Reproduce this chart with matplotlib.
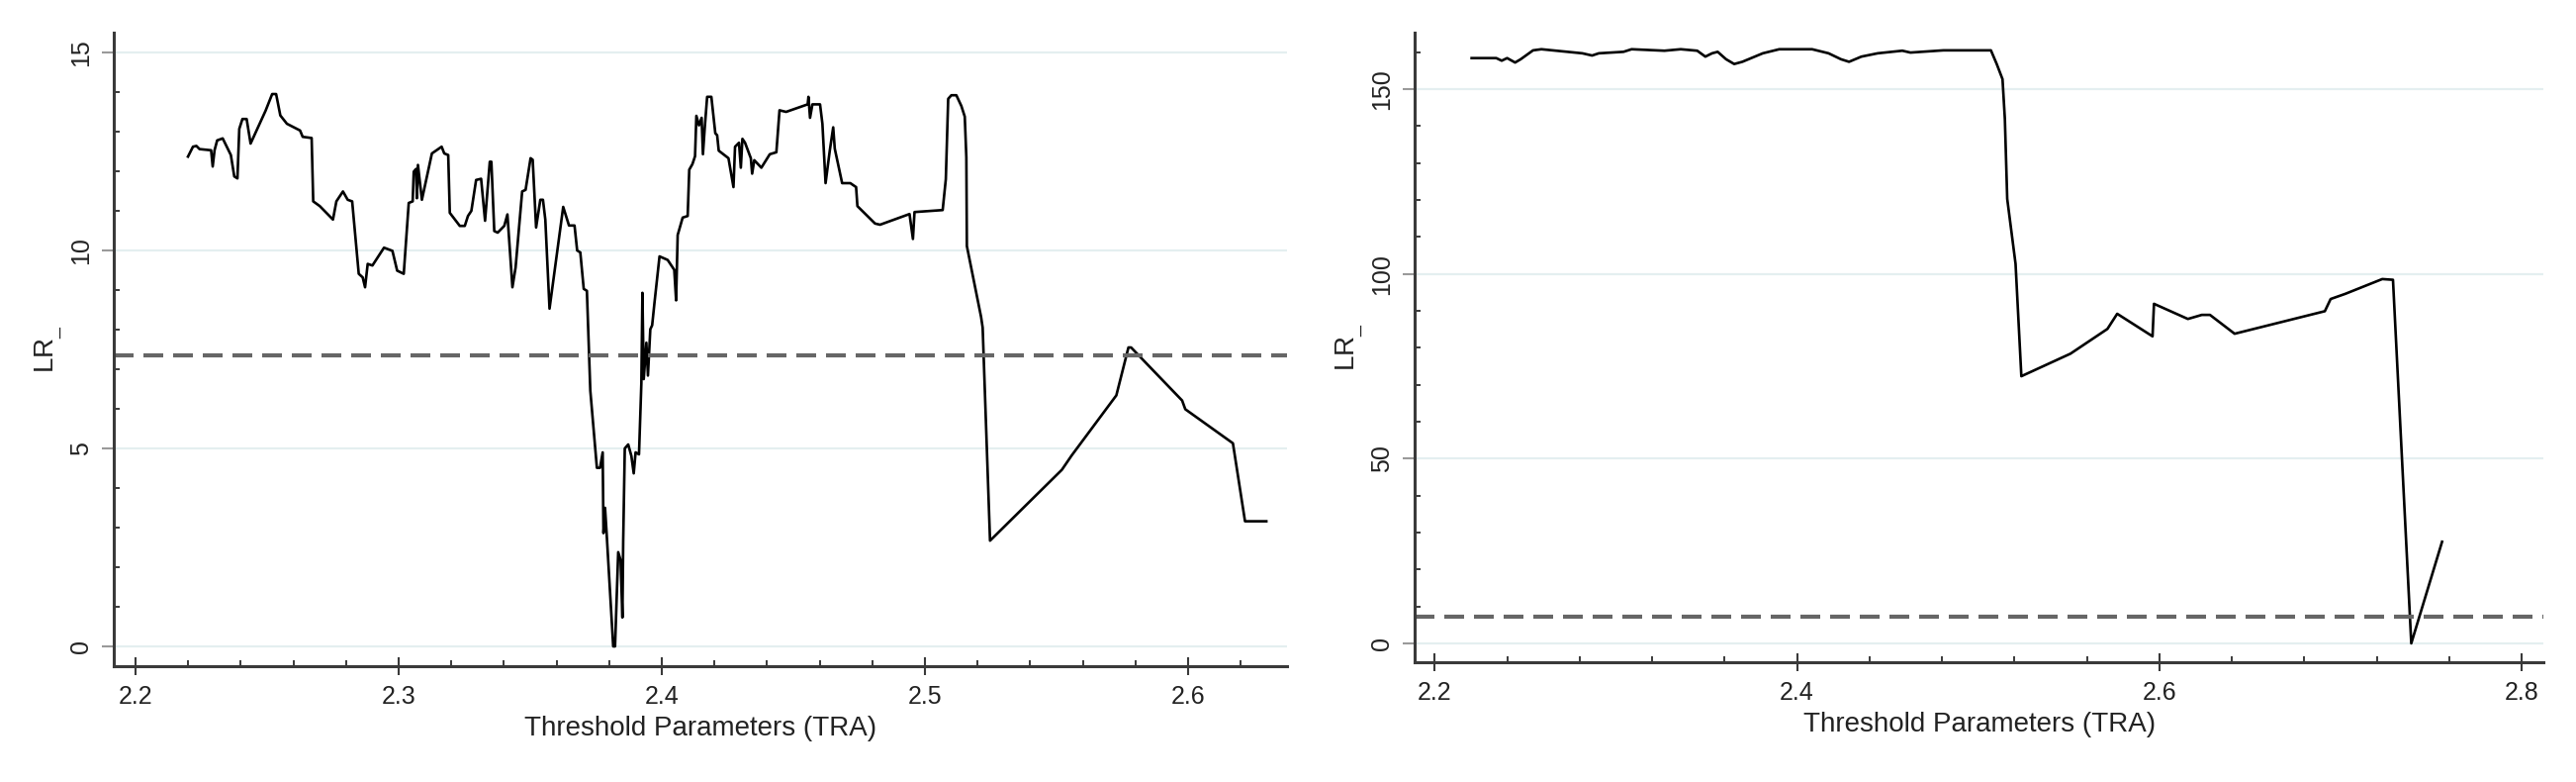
import matplotlib
matplotlib.use("Agg")
import matplotlib.pyplot as plt
from matplotlib.ticker import MultipleLocator, FormatStrFormatter

plt.rcParams["font.family"] = ["Liberation Sans", "DejaVu Sans"]
plt.rcParams["mathtext.fontset"] = "custom"
plt.rcParams["mathtext.rm"] = "Liberation Sans"
plt.rcParams["mathtext.it"] = "Liberation Sans:italic"

# ------------------------------------------------
# Data
# ------------------------------------------------
tra_left = [
    2.2199, 2.2218, 2.2231, 2.2243, 2.2287, 2.2293, 2.2300, 2.2310, 2.2331, 2.2362,
    2.2375, 2.2387, 2.2394, 2.2406, 2.2422, 2.2437, 2.2494, 2.2519, 2.2534, 2.2550,
    2.2575, 2.2625, 2.2635, 2.2669, 2.2675, 2.2700, 2.2750, 2.2763, 2.2788, 2.2806,
    2.2823, 2.2848, 2.2863, 2.2872, 2.2882, 2.2900, 2.2944, 2.2976, 2.2994, 2.3019,
    2.3038, 2.3053, 2.3057, 2.3066, 2.3069, 2.3073, 2.3088, 2.3126, 2.3163, 2.3173,
    2.3188, 2.3194, 2.3232, 2.3251, 2.3263, 2.3276, 2.3294, 2.3313, 2.3328, 2.3346,
    2.3352, 2.3363, 2.3376, 2.3401, 2.3413, 2.3432, 2.3444, 2.3469, 2.3482, 2.3501,
    2.3509, 2.3522, 2.3538, 2.3548, 2.3557, 2.3573, 2.3625, 2.3647, 2.3668, 2.3678,
    2.3690, 2.3703, 2.3715, 2.3728, 2.3753, 2.3765, 2.3775, 2.3778, 2.3784, 2.3790,
    2.3815, 2.3822, 2.3834, 2.3843, 2.3850, 2.3853, 2.3859, 2.3872, 2.3884, 2.3893,
    2.3900, 2.3913, 2.3922, 2.3926, 2.3931, 2.3941, 2.3947, 2.3956, 2.3963, 2.3972,
    2.3991, 2.4022, 2.4047, 2.4054, 2.4060, 2.4079, 2.4098, 2.4104, 2.4116, 2.4126,
    2.4131, 2.4141, 2.4151, 2.4156, 2.4163, 2.4172, 2.4188, 2.4203, 2.4210, 2.4216,
    2.4253, 2.4272, 2.4278, 2.4293, 2.4300, 2.4306, 2.4316, 2.4338, 2.4343, 2.4351,
    2.4378, 2.4410, 2.4435, 2.4447, 2.4472, 2.4554, 2.4557, 2.4563, 2.4572, 2.4601,
    2.4610, 2.4622, 2.4638, 2.4651, 2.4657, 2.4685, 2.4716, 2.4738, 2.4743, 2.4810,
    2.4829, 2.4941, 2.4954, 2.4960, 2.5067, 2.5079, 2.5088, 2.5100, 2.5119, 2.5138,
    2.5151, 2.5157, 2.5159, 2.5213, 2.5219, 2.5247, 2.5520, 2.5557, 2.5727, 2.5773,
    2.5783, 2.5977, 2.5989, 2.6170, 2.6216, 2.6297,
]
lr_left = [
    12.37, 12.62, 12.64, 12.56, 12.53, 12.12, 12.53, 12.78, 12.83, 12.41,
    11.87, 11.82, 13.07, 13.32, 13.32, 12.70, 13.53, 13.95, 13.95, 13.41,
    13.20, 13.03, 12.87, 12.84, 11.24, 11.12, 10.78, 11.24, 11.49, 11.28,
    11.24, 9.41, 9.32, 9.07, 9.66, 9.62, 10.07, 9.99, 9.49, 9.41,
    11.20, 11.24, 11.99, 12.06, 11.32, 12.16, 11.28, 12.45, 12.62, 12.45,
    12.41, 10.95, 10.62, 10.62, 10.87, 11.00, 11.78, 11.81, 10.75, 12.24,
    12.24, 10.49, 10.45, 10.62, 10.91, 9.07, 9.57, 11.49, 11.53, 12.33,
    12.29, 10.58, 11.28, 11.28, 10.78, 8.53, 11.10, 10.63, 10.63, 10.00,
    9.95, 9.03, 8.98, 6.46, 4.51, 4.51, 4.90, 2.86, 3.50, 2.86,
    0.00, 0.00, 2.38, 2.18, 0.73, 2.67, 5.00, 5.10, 4.81, 4.37,
    4.90, 4.85, 6.65, 8.93, 6.75, 7.67, 6.84, 8.01, 8.11, 8.69,
    9.85, 9.76, 9.51, 8.74, 10.39, 10.83, 10.87, 12.04, 12.18, 12.38,
    13.40, 13.16, 13.35, 12.43, 13.11, 13.88, 13.88, 12.96, 12.91, 12.52,
    12.33, 11.60, 12.62, 12.72, 12.09, 12.82, 12.72, 12.33, 11.94, 12.28,
    12.09, 12.43, 12.48, 13.54, 13.50, 13.69, 13.88, 13.35, 13.69, 13.69,
    13.20, 11.70, 12.52, 13.11, 12.57, 11.70, 11.70, 11.60, 11.12, 10.68,
    10.65, 10.92, 10.29, 10.97, 11.02, 11.80, 13.83, 13.92, 13.92, 13.65,
    13.38, 12.35, 10.11, 8.32, 8.05, 2.67, 4.46, 4.82, 6.34, 7.55,
    7.55, 6.21, 5.99, 5.13, 3.16, 3.16,
]

tra_right = [
    2.2204, 2.2340, 2.2370, 2.2400, 2.2444, 2.2475, 2.2543, 2.2589, 2.2815, 2.2869,
    2.2906, 2.3042, 2.3087, 2.3268, 2.3358, 2.3449, 2.3494, 2.3531, 2.3562, 2.3608,
    2.3653, 2.3698, 2.3811, 2.3902, 2.4083, 2.4174, 2.4242, 2.4287, 2.4355, 2.4445,
    2.4581, 2.4626, 2.4808, 2.5070, 2.5102, 2.5134, 2.5147, 2.5160, 2.5206, 2.5238,
    2.5509, 2.5713, 2.5767, 2.5962, 2.5970, 2.6157, 2.6234, 2.6279, 2.6415, 2.6913,
    2.6945, 2.7026, 2.7230, 2.7289, 2.7390, 2.7560,
]
lr_right = [
    158.4, 158.4, 157.7, 158.4, 157.2, 158.1, 160.5, 160.8, 159.7, 159.1,
    159.7, 160.1, 160.8, 160.4, 160.8, 160.4, 158.8, 159.7, 160.1, 158.1,
    156.8, 157.4, 159.7, 160.8, 160.8, 159.7, 158.1, 157.4, 158.8, 159.7,
    160.4, 159.9, 160.5, 160.5, 156.8, 152.7, 141.9, 120.3, 102.7, 72.3,
    78.4, 85.1, 89.2, 83.1, 91.9, 87.8, 88.9, 88.9, 83.8, 89.9,
    93.2, 94.6, 98.6, 98.4, 0.0, 27.5,
]

crit_value = 7.35

x_label = "Threshold Parameters (TRA)"
y_label = r"LR$_{\_}$"

SPINE = "#3a3a3a"
GRID = "#e4eff0"


# ------------------------------------------------
# Stata-like axis styling
# ------------------------------------------------
def style_axis(ax, xlim, ylim, xmajor, xminor, ymajor, yminor):
    ax.set_xlim(*xlim)
    ax.set_ylim(*ylim)
    ax.xaxis.set_major_locator(MultipleLocator(xmajor))
    ax.xaxis.set_minor_locator(MultipleLocator(xminor))
    ax.yaxis.set_major_locator(MultipleLocator(ymajor))
    ax.yaxis.set_minor_locator(MultipleLocator(yminor))
    ax.xaxis.set_major_formatter(FormatStrFormatter("%.1f"))
    ax.yaxis.set_major_formatter(FormatStrFormatter("%d"))

    for side in ["top", "right"]:
        ax.spines[side].set_visible(False)
    for side in ["left", "bottom"]:
        ax.spines[side].set_color(SPINE)
        ax.spines[side].set_linewidth(2.2)

    ax.tick_params(axis="x", which="major", direction="inout", length=13, width=1.5,
                   color=SPINE, labelsize=18, labelcolor="#222222", pad=7)
    ax.tick_params(axis="y", which="major", direction="out", length=9, width=1.5,
                   color="#9a9a9a", labelsize=18, labelcolor="#222222", pad=6,
                   labelrotation=90)
    ax.tick_params(which="minor", direction="in", length=4.5, width=1.4, color=SPINE)
    for lbl in ax.get_yticklabels():
        lbl.set_va("center")

    ax.yaxis.grid(True, which="major", color=GRID, linewidth=1.6)
    ax.set_axisbelow(True)
    ax.set_xlabel(x_label, fontsize=20, color="#222222", labelpad=5)
    ax.set_ylabel(y_label, fontsize=20, color="#222222", labelpad=4)


fig = plt.figure(figsize=(26.04, 7.90), dpi=100)
ax1 = fig.add_axes([0.04416, 0.1481, 0.4555, 0.8101])
ax2 = fig.add_axes([0.5492, 0.1532, 0.4382, 0.8051])

ax1.plot(tra_left, lr_left, color="black", linewidth=1.9)
ax1.axhline(crit_value, color="#666666", linewidth=3, dashes=(4.8, 2.4))
style_axis(ax1, (2.1917, 2.6376), (-0.5, 15.5), 0.1, 0.02, 5, 1)

ax2.plot(tra_right, lr_right, color="black", linewidth=1.9)
ax2.axhline(crit_value, color="#666666", linewidth=3, dashes=(4.8, 2.4))
style_axis(ax2, (2.189, 2.812), (-5.1, 165.3), 0.2, 0.04, 50, 10)

fig.savefig("out.png", dpi=100)
